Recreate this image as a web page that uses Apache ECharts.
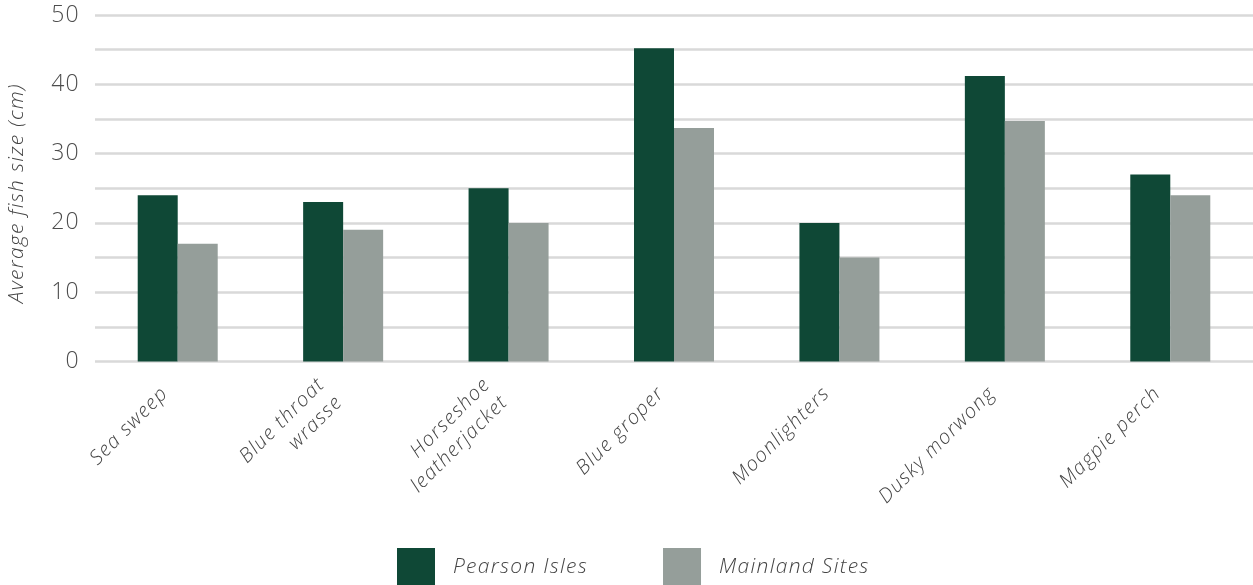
<!DOCTYPE html>
<html>
<head>
<meta charset="utf-8">
<script src="https://cdn.jsdelivr.net/npm/echarts@6/dist/echarts.min.js"></script>
<style>
html,body{margin:0;padding:0;background:#fff;}
#c{width:1253px;height:585px;}
</style>
</head>
<body>
<div id="c"></div>
<script>
const categories = ['Sea sweep', 'Blue throat\nwrasse', 'Horseshoe\nleatherjacket', 'Blue groper', 'Moonlighters', 'Dusky morwong', 'Magpie perch'];
const pearsonIsles = [24, 23, 25, 45.2, 20, 41.2, 27];
const mainlandSites = [17, 19, 20, 33.7, 15, 34.7, 24];
const seriesNames = ['Pearson Isles', 'Mainland Sites'];
const yAxisName = 'Average fish size (cm)';

// wider tracking to mimic the original light, loosely-spaced typeface
(function () {
  const P = CanvasRenderingContext2D.prototype;
  if (!('letterSpacing' in P)) return;
  const LS = '1.3px';
  const of = P.fillText, om = P.measureText;
  P.fillText = function () { this.letterSpacing = LS; return of.apply(this, arguments); };
  P.measureText = function () { this.letterSpacing = LS; return om.apply(this, arguments); };
})();

const FONT = 'Open Sans';
const chart = echarts.init(document.getElementById('c'));
chart.setOption({
  animation: false,
  grid: {left: 95, right: 0, top: 15, bottom: 223.5, containLabel: false, outerBoundsMode: 'none'},
  legend: {
    top: 543, left: 392,
    itemWidth: 38, itemHeight: 38, itemGap: 75,
    icon: 'rect',
    textStyle: {fontFamily: FONT, fontStyle: 'italic', fontWeight: 300, fontSize: 21, color: '#444', padding: [0, 0, 0, 13]},
    data: seriesNames
  },
  xAxis: {
    type: 'category',
    data: categories,
    axisLine: {show: false},
    axisTick: {show: false},
    axisLabel: {
      interval: 0, rotate: 45, margin: 16,
      padding: [0, 18, 0, 0],
      fontFamily: FONT, fontStyle: 'italic', fontWeight: 300, fontSize: 20, color: '#444', lineHeight: 25
    }
  },
  yAxis: {
    type: 'value', min: 0, max: 50, interval: 5,
    name: yAxisName, nameLocation: 'middle', nameGap: 67, nameRotate: 90,
    nameTextStyle: {fontFamily: FONT, fontStyle: 'italic', fontWeight: 300, fontSize: 21, color: '#444', padding: [0, 10, 0, 0]},
    axisLine: {show: false}, axisTick: {show: false},
    axisLabel: {
      fontFamily: FONT, fontWeight: 300, fontSize: 23, color: '#4d4d4d', margin: 15,
      formatter: v => (v % 10 === 0 ? String(v) : '')
    },
    splitLine: {lineStyle: {color: '#d9d9d9', width: 2.5}}
  },
  series: [
    {name: seriesNames[0], type: 'bar', data: pearsonIsles, barWidth: 40, barGap: '0%', itemStyle: {color: '#0f4836'}},
    {name: seriesNames[1], type: 'bar', data: mainlandSites, barWidth: 40, barGap: '0%', itemStyle: {color: '#959e9a'}}
  ]
});
</script>
</body>
</html>
